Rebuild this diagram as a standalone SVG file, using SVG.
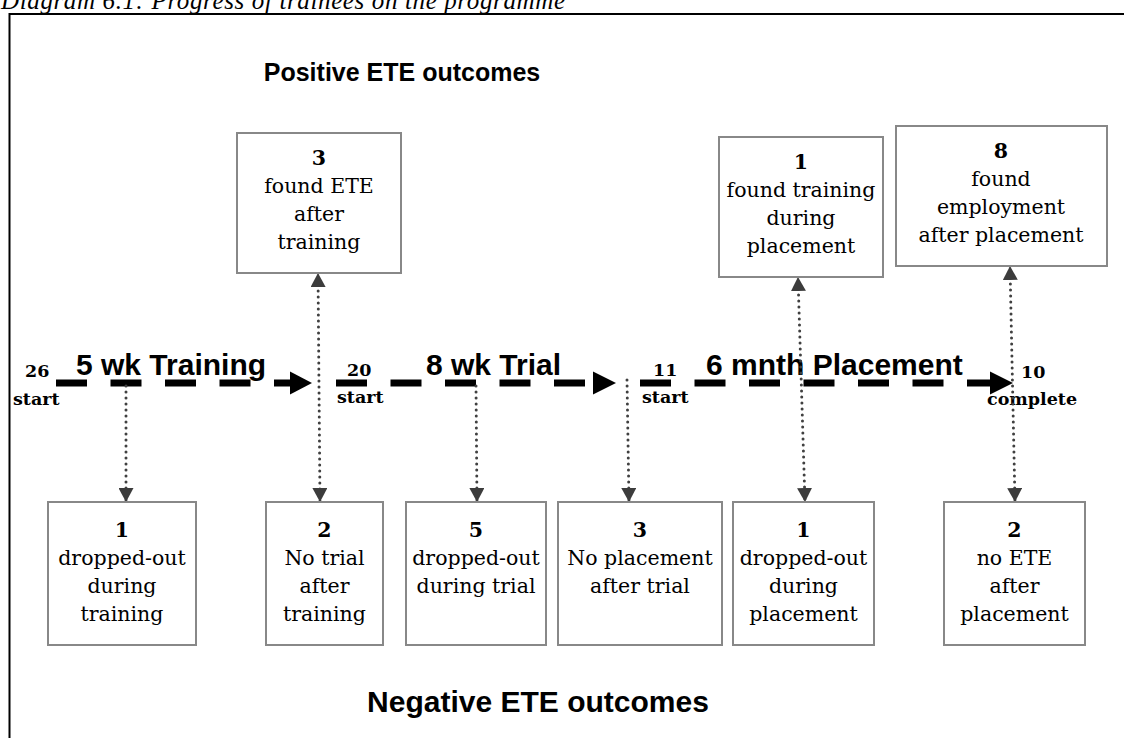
<svg xmlns="http://www.w3.org/2000/svg" width="1124" height="738" viewBox="0 0 1124 738">
<style>
.box{fill:#fff;stroke:#888;stroke-width:2}
.t{font-family:"DejaVu Serif",serif;font-size:20.5px;text-anchor:middle;fill:#000}
.n{font-weight:bold}
.lab{font-family:"DejaVu Serif",serif;font-weight:bold;font-size:17.5px;fill:#000}
.phase{font-family:"Liberation Sans",Arial,sans-serif;font-weight:bold;font-size:30px;fill:#000}
.head{font-family:"Liberation Sans",Arial,sans-serif;font-weight:bold;text-anchor:middle;fill:#000}
.dash{stroke:#000;stroke-width:7;stroke-dasharray:31 23.5;fill:none}
.dot{stroke:#404040;stroke-width:3;stroke-linecap:round;stroke-dasharray:0 6;fill:none}
.ah{fill:#000}
</style>
<defs>
<marker id="arr" viewBox="0 0 14 15" refX="14" refY="7.5" markerWidth="14" markerHeight="15" markerUnits="userSpaceOnUse" orient="auto-start-reverse"><path d="M0,0 L14,7.5 L0,15 z" fill="#3c3c3c"/></marker>
</defs>
<rect width="1124" height="738" fill="#fff"/>
<text x="1" y="9" font-family="Liberation Serif,serif" font-style="italic" font-size="25" textLength="564">Diagram 6.1: Progress of trainees on the programme</text>
<path d="M9.5,738 V14 H1124" fill="none" stroke="#000" stroke-width="2"/>

<text class="head" x="402" y="81" font-size="25">Positive ETE outcomes</text>
<text class="head" x="538" y="712" font-size="30">Negative ETE outcomes</text>

<g id="timeline">
<line class="dash" x1="56" y1="383" x2="292" y2="383"/>
<polygon class="ah" points="290,371.5 312,383 290,394.5"/>
<line class="dash" x1="336" y1="383" x2="585" y2="383"/>
<polygon class="ah" points="593,371.5 616,383 593,394.5"/>
<line class="dash" x1="640" y1="383" x2="992" y2="383"/>
<polygon class="ah" points="990,371.5 1013,383 990,394.5"/>
<text class="phase" x="76" y="375">5 wk Training</text>
<text class="phase" x="426" y="375">8 wk Trial</text>
<text class="phase" x="706" y="375">6 mnth Placement</text>
<text class="lab" x="25" y="377">26</text>
<text class="lab" x="13" y="405">start</text>
<text class="lab" x="347" y="376">20</text>
<text class="lab" x="337" y="403">start</text>
<text class="lab" x="653" y="376">11</text>
<text class="lab" x="642" y="403">start</text>
<text class="lab" x="1021" y="378">10</text>
<text class="lab" x="987" y="405">complete</text>
</g>

<g id="connectors">
<line class="dot" x1="126" y1="386" x2="126" y2="502" marker-end="url(#arr)"/>
<line class="dot" x1="318" y1="273" x2="320" y2="502" marker-start="url(#arr)" marker-end="url(#arr)"/>
<line class="dot" x1="476" y1="386" x2="477" y2="502" marker-end="url(#arr)"/>
<line class="dot" x1="627" y1="380" x2="629" y2="502" marker-end="url(#arr)"/>
<line class="dot" x1="798" y1="277" x2="805" y2="502" marker-start="url(#arr)" marker-end="url(#arr)"/>
<line class="dot" x1="1010" y1="266" x2="1015" y2="502" marker-start="url(#arr)" marker-end="url(#arr)"/>
</g>

<g id="found-ete-after-training">
<rect class="box" x="237" y="133" width="164" height="140"/>
<text class="t n" x="319" y="165">3</text>
<text class="t" x="319" y="193">found ETE</text>
<text class="t" x="319" y="221">after</text>
<text class="t" x="319" y="249">training</text>
</g>
<g id="found-training-during-placement">
<rect class="box" x="719" y="137" width="164" height="140"/>
<text class="t n" x="801" y="169">1</text>
<text class="t" x="801" y="197">found training</text>
<text class="t" x="801" y="225">during</text>
<text class="t" x="801" y="253">placement</text>
</g>
<g id="found-employment-after-placement">
<rect class="box" x="896" y="126" width="211" height="140"/>
<text class="t n" x="1001" y="158">8</text>
<text class="t" x="1001" y="186">found</text>
<text class="t" x="1001" y="214">employment</text>
<text class="t" x="1001" y="242">after placement</text>
</g>

<g id="dropped-out-during-training">
<rect class="box" x="48" y="502" width="148" height="143"/>
<text class="t n" x="122" y="537">1</text>
<text class="t" x="122" y="565">dropped-out</text>
<text class="t" x="122" y="593">during</text>
<text class="t" x="122" y="621">training</text>
</g>
<g id="no-trial-after-training">
<rect class="box" x="266" y="502" width="117" height="143"/>
<text class="t n" x="324.5" y="537">2</text>
<text class="t" x="324.5" y="565">No trial</text>
<text class="t" x="324.5" y="593">after</text>
<text class="t" x="324.5" y="621">training</text>
</g>
<g id="dropped-out-during-trial">
<rect class="box" x="406" y="502" width="140" height="143"/>
<text class="t n" x="476" y="537">5</text>
<text class="t" x="476" y="565">dropped-out</text>
<text class="t" x="476" y="593">during trial</text>
</g>
<g id="no-placement-after-trial">
<rect class="box" x="558" y="502" width="164" height="143"/>
<text class="t n" x="640" y="537">3</text>
<text class="t" x="640" y="565">No placement</text>
<text class="t" x="640" y="593">after trial</text>
</g>
<g id="dropped-out-during-placement">
<rect class="box" x="733" y="502" width="141" height="143"/>
<text class="t n" x="803.5" y="537">1</text>
<text class="t" x="803.5" y="565">dropped-out</text>
<text class="t" x="803.5" y="593">during</text>
<text class="t" x="803.5" y="621">placement</text>
</g>
<g id="no-ete-after-placement">
<rect class="box" x="944" y="502" width="141" height="143"/>
<text class="t n" x="1014.5" y="537">2</text>
<text class="t" x="1014.5" y="565">no ETE</text>
<text class="t" x="1014.5" y="593">after</text>
<text class="t" x="1014.5" y="621">placement</text>
</g>
</svg>
